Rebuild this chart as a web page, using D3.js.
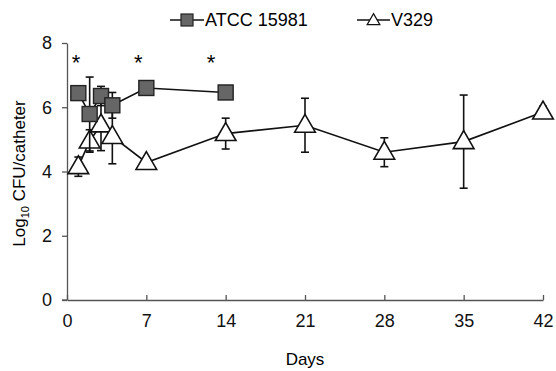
<!DOCTYPE html>
<html>
<head>
<meta charset="utf-8">
<script src="https://cdn.jsdelivr.net/npm/d3@7"></script>
<style>
  body { margin: 0; background: #fff; }
  text { font-family: "Liberation Sans", Arial, sans-serif; }
</style>
</head>
<body>
<svg id="chart"></svg>
<script>
// Data
const atccDays = [1, 2, 3, 4, 7, 14];
const atccMean = [6.44, 5.79, 6.35, 6.06, 6.6, 6.46];
const atccErr  = [0.1, 1.15, 0.3, 0.4, 0.08, 0.08];

const v329Days = [1, 2, 3, 4, 7, 14, 21, 28, 35, 42];
const v329Mean = [4.15, 4.95, 5.45, 5.09, 4.28, 5.18, 5.44, 4.6, 4.93, 5.85];
const v329Err  = [0.3, 0.35, 0.8, 0.85, 0.08, 0.48, 0.84, 0.45, 1.45, 0.18];

const starDays = [0.8, 6.3, 12.7];
const xTicks = [0, 7, 14, 21, 28, 35, 42];
const yTicks = [0, 2, 4, 6, 8];

const width = 556, height = 371;
const svg = d3.select("#chart").attr("width", width).attr("height", height);

const x = d3.scaleLinear().domain([0, 42]).range([67, 543]);
const y = d3.scaleLinear().domain([0, 8]).range([300, 43]);

const axisColor = "#555";
const fontSize = "18px";

// Axes
const xAxis = svg.append("g")
    .attr("transform", `translate(0,${y(0)})`)
    .call(d3.axisBottom(x).tickValues(xTicks).tickSizeInner(-5).tickSizeOuter(0).tickPadding(14));
const yAxis = svg.append("g")
    .attr("transform", `translate(${x(0)},0)`)
    .call(d3.axisLeft(y).tickValues(yTicks).tickSizeInner(5).tickSizeOuter(0).tickPadding(10));

[xAxis, yAxis].forEach(g => {
    g.select(".domain").attr("stroke", axisColor).attr("stroke-width", 1.3);
    g.selectAll(".tick line").attr("stroke", axisColor).attr("stroke-width", 1.3);
    g.selectAll(".tick text").attr("fill", "#111").style("font-size", fontSize)
        .style("font-family", "'Liberation Sans', Arial, sans-serif");
});
// the x axis line reaches past the y axis a little
svg.append("line")
    .attr("x1", x(0) - 5).attr("x2", x(0))
    .attr("y1", y(0)).attr("y2", y(0))
    .attr("stroke", axisColor).attr("stroke-width", 1.3);

// Axis titles
svg.append("text")
    .attr("x", 305).attr("y", 365)
    .attr("text-anchor", "middle")
    .style("font-size", "17px")
    .text("Days");

const yt = svg.append("text")
    .attr("transform", `translate(25,${(y(0) + y(8)) / 2 + 2}) rotate(-90)`)
    .attr("text-anchor", "middle")
    .style("font-size", "17px");
yt.append("tspan").text("Log");
yt.append("tspan").text("10").style("font-size", "11px").attr("dy", 4);
yt.append("tspan").text(" CFU/catheter").attr("dy", -4);

const atcc = atccDays.map((d, i) => ({ day: d, mean: atccMean[i], err: atccErr[i] }));
const v329 = v329Days.map((d, i) => ({ day: d, mean: v329Mean[i], err: v329Err[i] }));

const line = d3.line().x(d => x(d.day)).y(d => y(d.mean));

function errorBars(data) {
    const g = svg.append("g").attr("stroke", "#111").attr("stroke-width", 1.6);
    g.selectAll("line.v").data(data).join("line")
        .attr("x1", d => x(d.day)).attr("x2", d => x(d.day))
        .attr("y1", d => y(d.mean - d.err)).attr("y2", d => y(d.mean + d.err));
    g.selectAll("line.t").data(data.flatMap(d => [d.mean - d.err, d.mean + d.err].map(v => ({ day: d.day, v }))))
        .join("line")
        .attr("x1", d => x(d.day) - 4).attr("x2", d => x(d.day) + 4)
        .attr("y1", d => y(d.v)).attr("y2", d => y(d.v));
}

// V329 (drawn first, under the squares)
errorBars(v329);
svg.append("path").datum(v329)
    .attr("d", line).attr("fill", "none").attr("stroke", "#111").attr("stroke-width", 1.6);

const tri = d3.symbol().type(d3.symbolTriangle).size(185);
svg.append("g").selectAll("path").data(v329).join("path")
    .attr("d", tri)
    .attr("transform", d => `translate(${x(d.day)},${y(d.mean) + 1})`)
    .attr("fill", "#fff").attr("stroke", "#111").attr("stroke-width", 1.6);

// ATCC 15981
errorBars(atcc);
svg.append("path").datum(atcc)
    .attr("d", line).attr("fill", "none").attr("stroke", "#111").attr("stroke-width", 1.6);
svg.append("g").selectAll("rect").data(atcc).join("rect")
    .attr("x", d => x(d.day) - 7.5).attr("y", d => y(d.mean) - 7.5)
    .attr("width", 15).attr("height", 15)
    .attr("fill", "#666").attr("stroke", "#222").attr("stroke-width", 1.4);

// Significance asterisks
svg.append("g").selectAll("text").data(starDays).join("text")
    .attr("x", d => x(d)).attr("y", y(7.15))
    .attr("text-anchor", "middle")
    .style("font-size", "22px")
    .text("*");

// Legend
const legend = svg.append("g").attr("transform", "translate(0,20)");
legend.append("line").attr("x1", 170).attr("x2", 204).attr("y1", 0).attr("y2", 0)
    .attr("stroke", "#111").attr("stroke-width", 1.6);
legend.append("rect").attr("x", 181).attr("y", -6).attr("width", 12).attr("height", 12)
    .attr("fill", "#666").attr("stroke", "#222").attr("stroke-width", 1.2);
legend.append("text").attr("x", 205).attr("y", 6).style("font-size", fontSize).text("ATCC 15981");

legend.append("line").attr("x1", 357).attr("x2", 390).attr("y1", 0).attr("y2", 0)
    .attr("stroke", "#111").attr("stroke-width", 1.4);
legend.append("path").attr("d", d3.symbol().type(d3.symbolTriangle).size(70))
    .attr("transform", "translate(373.5,1)")
    .attr("fill", "#fff").attr("stroke", "#111").attr("stroke-width", 1.2);
legend.append("text").attr("x", 391).attr("y", 6).style("font-size", fontSize).text("V329");
</script>
</body>
</html>
